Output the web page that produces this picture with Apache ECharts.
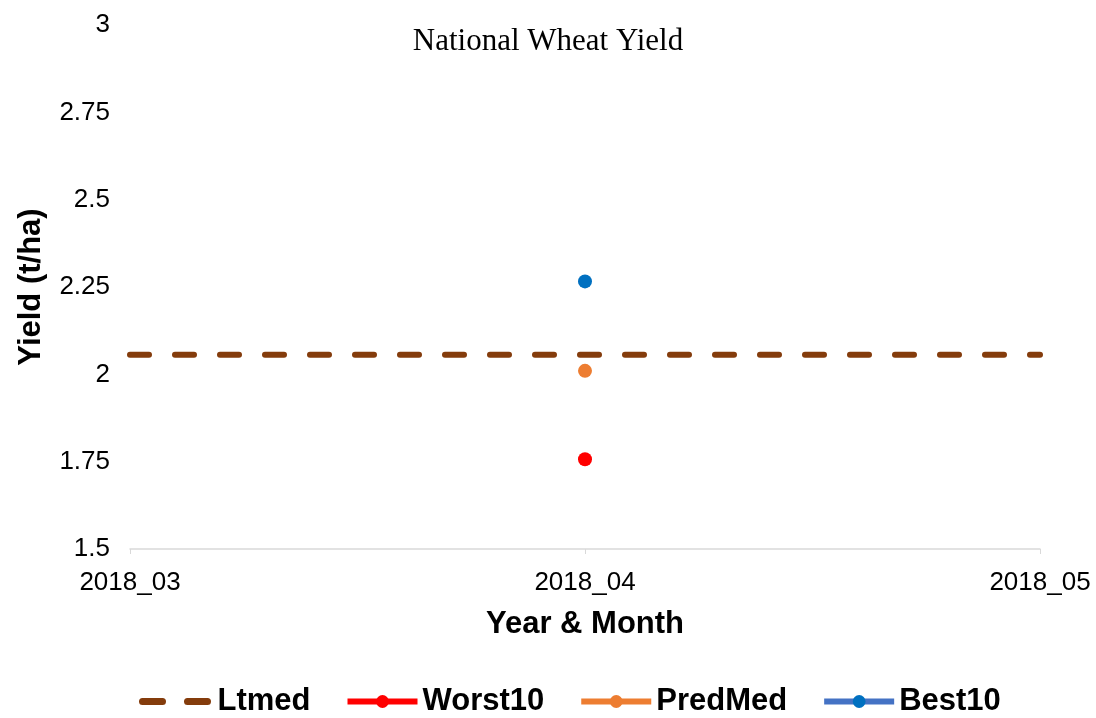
<!DOCTYPE html>
<html>
<head>
<meta charset="utf-8">
<script src="https://cdn.jsdelivr.net/npm/echarts@6/dist/echarts.min.js"></script>
<style>
  html, body { margin: 0; padding: 0; background: #fff; }
  #chart { width: 1096px; height: 718px; }
</style>
</head>
<body>
<div id="chart"></div>
<script>
// categories and values
var months = ['2018_03', '2018_04', '2018_05'];
var ltmed = [2.056, 2.056, 2.056];
var worst10 = [null, 1.757, null];
var predMed = [null, 2.01, null];
var best10 = [null, 2.266, null];
var yTicks = { min: 1.5, max: 3, step: 0.25 };

var chart = echarts.init(document.getElementById('chart'));

//bold legend / axis-name style
var boldText = { fontFamily: 'Liberation Sans, Arial', fontWeight: 'bold', fontSize: 31, color: '#000' };
var tickText = { color: '#000', fontSize: 26, fontFamily: 'Liberation Sans, Arial' };

function pointSeries(name, data, lineColor, dotColor) {
  return {
    name: name,
    type: 'line',
    data: data,
    symbol: 'circle',
    symbolSize: 14,
    showSymbol: true,
    connectNulls: false,
    lineStyle: { color: lineColor, width: 4 },
    itemStyle: { color: dotColor },
    z: 3
  };
}

var option = {
  backgroundColor: '#fff',
  animation: false,
  title: {
    text: 'National Wheat Yield',
    left: 'center',
    top: 21,
    textStyle: { fontFamily: 'Liberation Serif, Times New Roman', fontWeight: 'normal', fontSize: 31, color: '#000' }
  },
  legend: {
    bottom: -4,
    left: 134,
    itemWidth: 70,
    itemHeight: 16,
    itemGap: 34,
    textStyle: boldText,
    lineStyle: { width: 6 },
    data: [
      { name: 'Ltmed', itemStyle: { opacity: 0 }, lineStyle: { width: 7, type: [20, 25], cap: 'round', dashOffset: 0 } },
      { name: 'Worst10' },
      { name: 'PredMed' },
      { name: 'Best10' }
    ]
  },
  grid: { left: 130, right: 56, top: 25, bottom: 169 },
  xAxis: {
    type: 'category',
    data: months,
    boundaryGap: false,
    name: 'Year & Month',
    nameLocation: 'middle',
    nameGap: 60,
    nameTextStyle: boldText,
    axisLine: { lineStyle: { color: '#d9d9d9', width: 1.5 } },
    axisTick: { show: true, length: 5, lineStyle: { color: '#d9d9d9' } },
    axisLabel: Object.assign({ margin: 21 }, tickText)
  },
  yAxis: {
    type: 'value',
    min: yTicks.min,
    max: yTicks.max,
    interval: yTicks.step,
    name: 'Yield (t/ha)',
    nameLocation: 'middle',
    nameGap: 83,
    nameRotate: 90,
    nameTextStyle: boldText,
    axisLine: { show: false },
    axisTick: { show: false },
    splitLine: { show: false },
    axisLabel: Object.assign({ margin: 20 }, tickText)
  },
  series: [
    {
      name: 'Ltmed',
      type: 'line',
      data: ltmed,
      symbol: 'none',
      lineStyle: { color: '#843c0c', width: 6, type: [19, 26], cap: 'round', dashOffset: 0 },
      itemStyle: { color: '#843c0c' },
      z: 2
    },
    pointSeries('Worst10', worst10, '#ff0000', '#ff0000'),
    pointSeries('PredMed', predMed, '#ed7d31', '#ed7d31'),
    pointSeries('Best10', best10, '#4472c4', '#0070c0')
  ]
};

chart.setOption(option);
</script>
</body>
</html>
